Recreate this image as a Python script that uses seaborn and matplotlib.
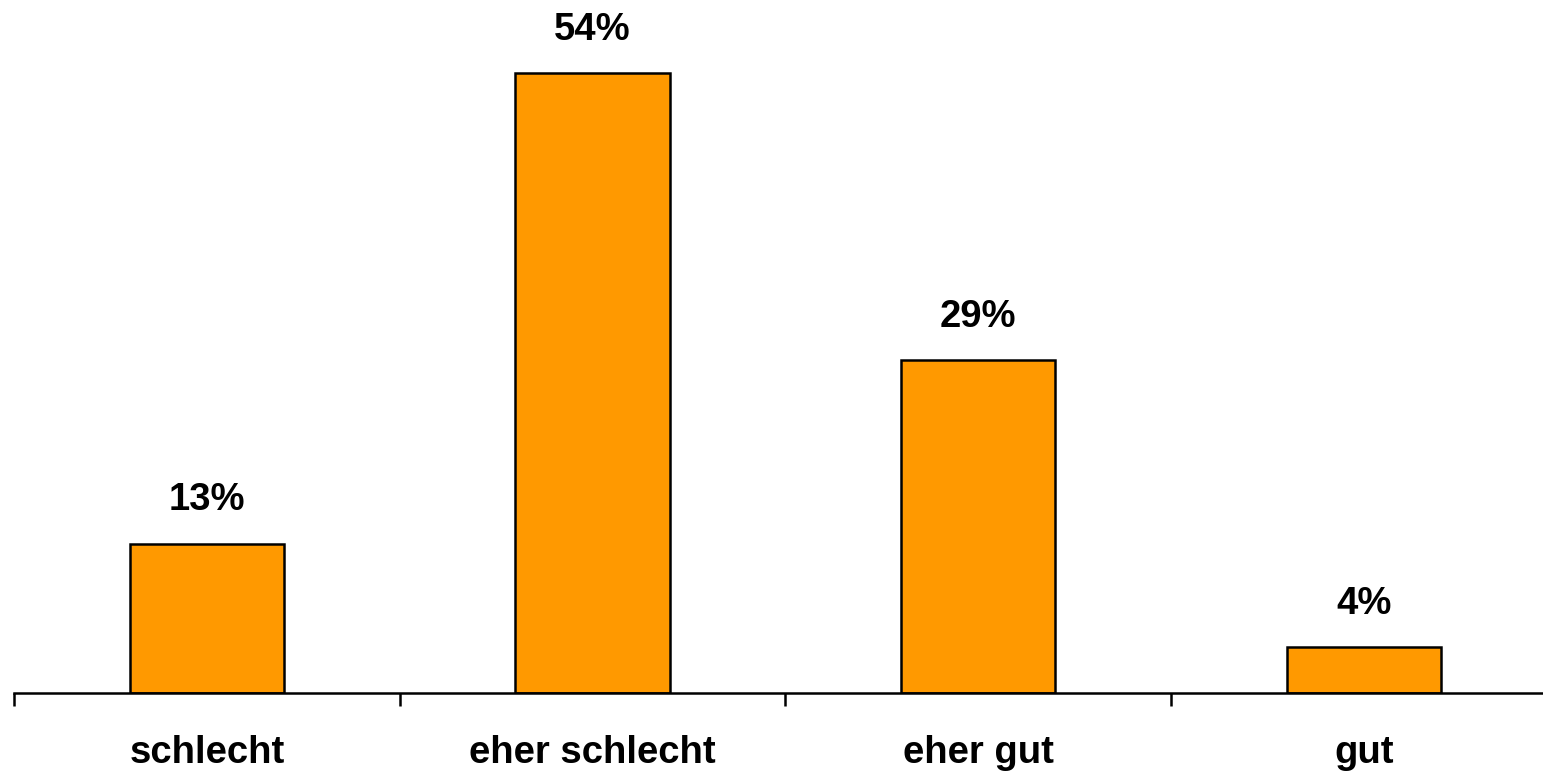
import matplotlib
matplotlib.use("Agg")
import matplotlib.pyplot as plt
import seaborn as sns
import pandas as pd

# Data
categories = ["schlecht", "eher schlecht", "eher gut", "gut"]
values = [13, 54, 29, 4]
labels = ["13%", "54%", "29%", "4%"]

df = pd.DataFrame({"category": categories, "value": values})

sns.set_style("white")
plt.rcParams["font.family"] = ["Liberation Sans", "DejaVu Sans"]
plt.rcParams["text.color"] = "black"
plt.rcParams["xtick.color"] = "black"
plt.rcParams["xtick.labelcolor"] = "black"

fig = plt.figure(figsize=(15.43, 7.74), dpi=100)
ax = fig.add_axes([14 / 1543, 81 / 774, 1529 / 1543, 689 / 774])

sns.barplot(data=df, x="category", y="value", color="#FF9900", width=0.4,
            edgecolor="black", linewidth=1.8, saturation=1, ax=ax)

# percentage labels above bars
for i, (v, lab) in enumerate(zip(values, labels)):
    ax.annotate(lab, xy=(i, v), xytext=(0, 24), textcoords="offset points",
                ha="center", va="baseline", fontsize=27.5, fontweight="bold",
                color="black")

ax.set_xlim(-0.5, 3.464)
ax.set_ylim(0, 60)

# only bottom axis line, with ticks between categories
for side in ["top", "left", "right"]:
    ax.spines[side].set_visible(False)
ax.spines["bottom"].set_linewidth(1.8)
ax.spines["bottom"].set_color("black")

ax.set_yticks([])
ax.set_xticks(range(len(categories)))
ax.set_xticklabels(categories, fontsize=27.5, fontweight="bold", color="black")
ax.tick_params(axis="x", which="major", length=0, pad=30)
ax.set_xticks([-0.5, 0.5, 1.5, 2.5], minor=True)
ax.tick_params(axis="x", which="minor", bottom=True, length=9, width=1.8,
               color="black", direction="out")
ax.set_xlabel("")
ax.set_ylabel("")

fig.savefig("out.png", dpi=100)
